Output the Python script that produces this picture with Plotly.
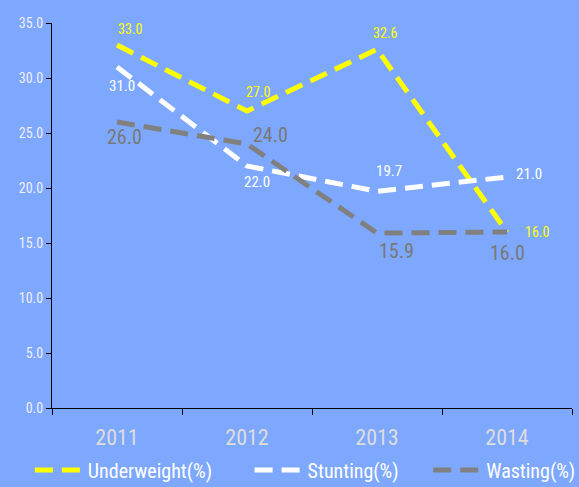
import plotly.graph_objects as go

years = ["2011", "2012", "2013", "2014"]
underweight = [33.0, 27.0, 32.6, 16.0]
stunting = [31.0, 22.0, 19.7, 21.0]
wasting = [26.0, 24.0, 15.9, 16.0]

FONT = "Liberation Sans Narrow, Roboto Condensed, DejaVu Sans Condensed, sans-serif"
BG = "#7EA8FE"

series = [
    ("Underweight(%)", underweight, "#FFFF00", "#FFFF00", 14,
     [(13, -16), (11, -19), (8, -16), (30, 0)], "legend"),
    ("Stunting(%)", stunting, "#FFFFFF", "#FFFFFF", 15,
     [(5, 19), (10, 16), (12, -20), (22, -3)], "legend2"),
    ("Wasting(%)", wasting, "#808080", "#787878", 20,
     [(7, 15), (23, -9), (19, 18), (0, 21)], "legend3"),
]

fig = go.Figure()
annotations = []
for name, vals, lc, tc, ts, offs, lg in series:
    fig.add_trace(go.Scatter(
        x=years, y=vals, name=name, mode="lines", legend=lg,
        line=dict(color=lc, width=5, dash="18px,9px"),
    ))
    for i, (v, (dx, dy)) in enumerate(zip(vals, offs)):
        annotations.append(dict(
            x=i, y=v, xref="x", yref="y", text=f"{v:.1f}", showarrow=False,
            xshift=dx, yshift=-dy, font=dict(color=tc, size=ts, family=FONT),
        ))

leg_common = dict(orientation="h", yanchor="middle", xanchor="left",
                  font=dict(color="#FFFFFF", size=20, family=FONT),
                  bgcolor="rgba(0,0,0,0)", itemwidth=48)

fig.update_layout(
    width=579, height=487,
    paper_bgcolor=BG, plot_bgcolor=BG,
    margin=dict(l=52, r=7, t=23, b=79, autoexpand=False),
    font=dict(family=FONT),
    showlegend=True,
    annotations=annotations,
    legend=dict(x=-0.0426, y=-0.161, **leg_common),
    legend2=dict(x=0.380, y=-0.161, **leg_common),
    legend3=dict(x=0.7235, y=-0.161, **leg_common),
    xaxis=dict(type="category", showline=True, linecolor="#000000", linewidth=1,
               ticks="outside", tickson="boundaries", ticklen=6, tickcolor="#000000",
               showgrid=False, tickfont=dict(color="#DDDDDD", size=22, family=FONT),
               ticklabelstandoff=10, range=[-0.5, 3.5]),
    yaxis=dict(range=[0, 35], dtick=5, tickformat=".1f", showline=True,
               linecolor="#000000", linewidth=1, ticks="outside", ticklen=5,
               tickcolor="#000000", showgrid=False, zeroline=False,
               tickfont=dict(color="#EEEEFF", size=14, family=FONT)),
)

fig.write_html("out.html", config={"displayModeBar": False},
               post_script="document.body.style.margin='0';document.body.style.background='" + BG + "';")
